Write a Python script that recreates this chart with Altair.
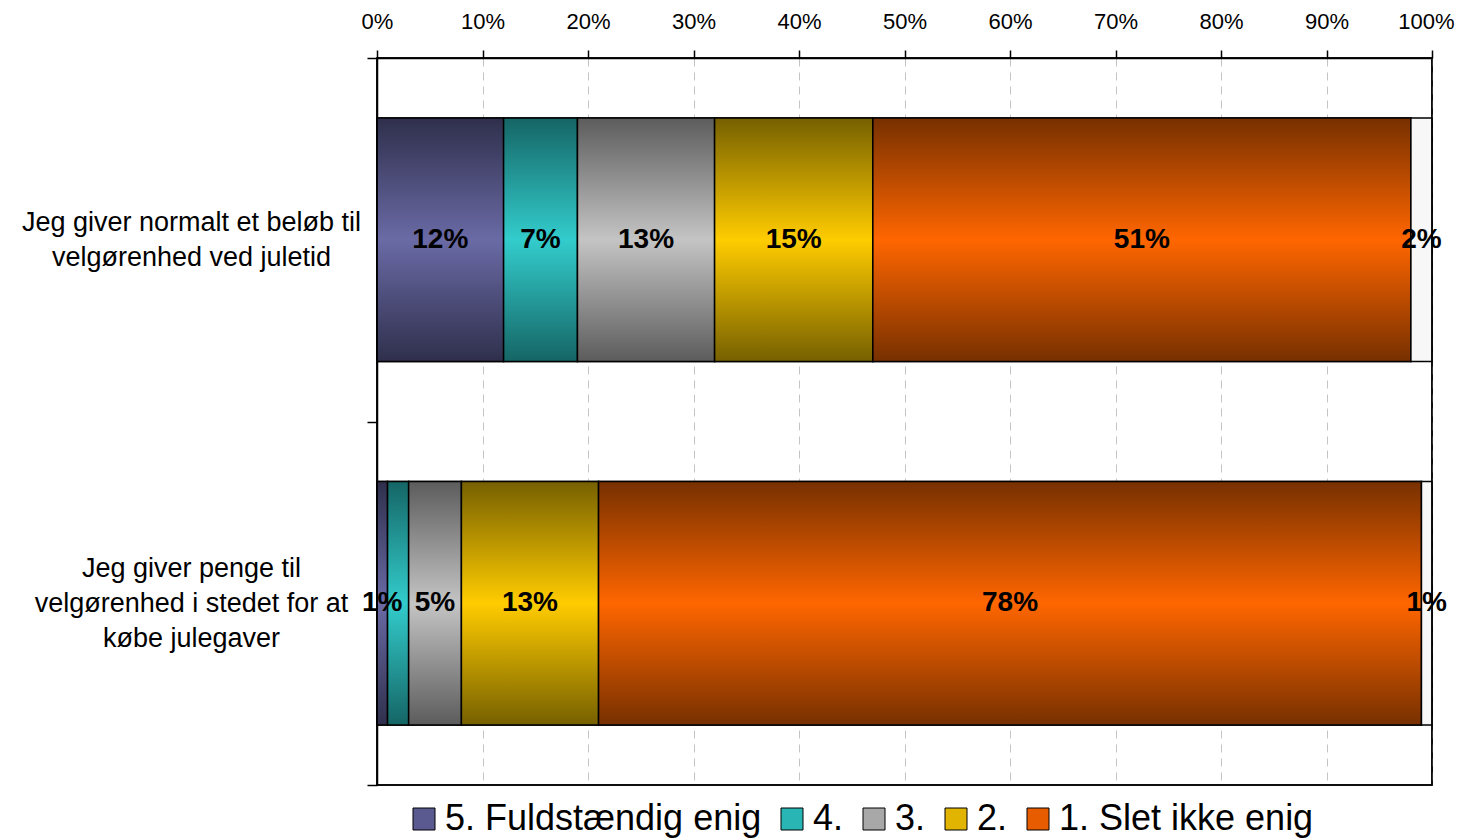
import altair as alt
import pandas as pd

categories = [
    "Jeg giver normalt et beløb til|velgørenhed ved juletid",
    "Jeg giver penge til|velgørenhed i stedet for at|købe julegaver",
]
levels = ["5. Fuldstændig enig", "4.", "3.", "2.", "1. Slet ikke enig", "Ved ikke"]
values_row1 = [12, 7, 13, 15, 51, 2]
values_row2 = [1, 2, 5, 13, 78, 1]
labels_row1 = ["12%", "7%", "13%", "15%", "51%", "2%"]
labels_row2 = ["1%", "", "5%", "13%", "78%", "1%"]
x_ticks = [0, 10, 20, 30, 40, 50, 60, 70, 80, 90, 100]

dark_colors = ["#2f2f4c", "#156565", "#5c5c5c", "#766000", "#773000", "#f7f7f7"]
light_colors = ["#6a6aa6", "#33cccc", "#c4c4c4", "#ffcc00", "#ff6600", "#f7f7f7"]
legend_colors = ["#5a5a90", "#2ab5b5", "#a8a8a8", "#e0b400", "#e85c00"]

FONT = "Liberation Sans"
BAR_BAND = 0.67

rows = []
for cat, vals, labs in zip(categories, [values_row1, values_row2], [labels_row1, labels_row2]):
    start = 0
    for lev, v, lab in zip(levels, vals, labs):
        rows.append(dict(cat=cat, level=lev, start=start, end=start + v,
                         mid=start + v / 2, label=lab))
        start += v
df = pd.DataFrame(rows)

label_shift = {
    "condition": {"test": "datum.value == '" + categories[1] + "'", "value": -35},
    "value": -17.5,
}
last_label_shift = {
    "condition": {"test": "datum.value == 100", "value": -6},
    "value": 0,
}

y_enc = alt.Y(
    "cat:N", sort=categories,
    scale=alt.Scale(paddingInner=0, paddingOuter=0),
    axis=alt.Axis(
        title=None, orient="left", labelExpr="split(datum.label, '|')",
        labelAlign="center", labelBaseline="middle", labelPadding=176,
        labelOffset=label_shift,
        labelFontSize=27, labelFont=FONT, labelColor="black", labelLimit=0,
        labelLineHeight=35, tickBand="extent", tickSize=10, tickColor="black",
        tickWidth=1.5, domainColor="black", domainWidth=1.5, grid=False,
    ),
)
x_axis = alt.Axis(
    title=None, orient="top", values=x_ticks, labelExpr="datum.value + '%'",
    labelFlush=False, labelOverlap=False, labelFontSize=22, labelFont=FONT,
    labelColor="black", labelPadding=17, labelOffset=last_label_shift,
    tickSize=8, tickColor="black",
    tickWidth=1.5, domainColor="black", domainWidth=1.5, grid=True,
    gridColor="#c4c4c4", gridDash=[8, 6], gridWidth=1,
)
x_scale = alt.Scale(domain=[0, 100], nice=False, zero=True)

base = alt.Chart(df)

legend_layer = base.transform_filter(alt.datum.level != "Ved ikke").mark_bar(
    stroke="black", strokeWidth=1.5, height={"band": BAR_BAND}
).encode(
    x=alt.X("start:Q", scale=x_scale, axis=x_axis),
    x2="end:Q",
    y=y_enc,
    color=alt.Color(
        "level:N",
        scale=alt.Scale(domain=levels[:5], range=legend_colors),
        legend=alt.Legend(
            title=None, orient="none", legendX=29, legendY=743,
            direction="horizontal", labelFontSize=36, labelFont=FONT,
            labelColor="black", symbolType="square", symbolSize=484,
            symbolStrokeColor="black", symbolStrokeWidth=1, labelLimit=0,
            columnPadding=12, labelOffset=3, padding=0,
        ),
    ),
)

layers = [legend_layer]
for lev, dc, lc in zip(levels, dark_colors, light_colors):
    grad = alt.LinearGradient(
        gradient="linear",
        stops=[
            alt.GradientStop(color=dc, offset=0),
            alt.GradientStop(color=lc, offset=0.5),
            alt.GradientStop(color=dc, offset=1),
        ],
        x1=0, x2=0, y1=0, y2=1,
    )
    layers.append(
        base.transform_filter(alt.datum.level == lev).mark_bar(
            fill=grad, stroke="black", strokeWidth=1.5, height={"band": BAR_BAND}
        ).encode(
            x=alt.X("start:Q", scale=x_scale, axis=x_axis),
            x2="end:Q",
            y=y_enc,
        )
    )

text_layer = base.mark_text(
    fontSize=28, fontWeight="bold", font=FONT, color="black",
    align="center", baseline="middle",
).encode(
    x=alt.X("mid:Q", scale=x_scale, axis=x_axis),
    y=y_enc,
    text="label:N",
)
layers.append(text_layer)

frame = alt.Chart(alt.Data(values=[{}])).mark_rect(
    filled=False, stroke="black", strokeWidth=1.5
).encode(
    x=alt.value(0), x2=alt.value(1055), y=alt.value(0), y2=alt.value(727)
)
layers.append(frame)

chart = alt.layer(*layers).properties(
    width=1055, height=727,
    autosize=alt.AutoSizeParams(type="none"),
    padding={"left": 369, "top": 50, "right": 24, "bottom": 53},
).configure_view(stroke="black", strokeWidth=1.5)

chart.save("out.html", embed_options={"renderer": "svg", "actions": False})
